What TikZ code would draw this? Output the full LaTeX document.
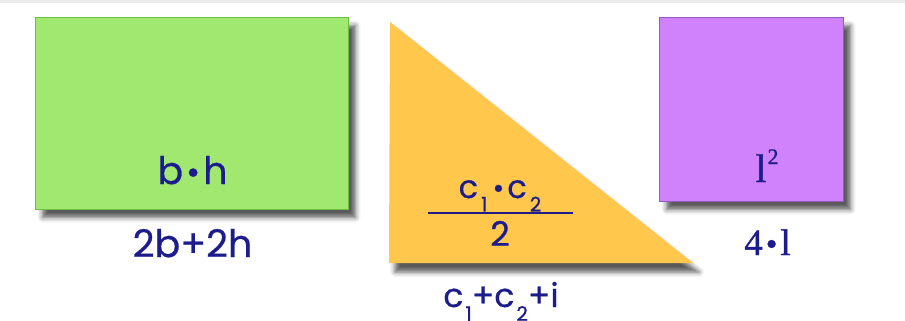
\documentclass[tikz,border=0pt]{standalone}
\usepackage{fontspec}
\setmainfont{Poppins}[FakeBold=0.6]
\newfontfamily\serifx{Liberation Serif}[FakeBold=1]
\usetikzlibrary{shadows.blur}
\definecolor{txt}{RGB}{28,28,140}
\definecolor{greenf}{RGB}{160,232,112}
\definecolor{greend}{RGB}{108,190,64}
\definecolor{orangef}{RGB}{255,200,76}
\definecolor{purplef}{RGB}{207,130,252}
\definecolor{purpled}{RGB}{150,90,190}
\newcommand{\sbx}[1]{\raisebox{-0.42em}{\fontsize{20}{20}\selectfont #1}}
\newcommand{\bul}{\scalebox{0.9}{\textbullet}}
\begin{document}
\begin{tikzpicture}[x=1pt,y=-1pt,
  shapebox/.style={draw, line width=1pt, inner sep=0pt, anchor=north west,
    blur shadow={shadow xshift=7pt, shadow yshift=-8pt, shadow blur radius=5pt, shadow opacity=65}},
  lbl/.style={text=txt, anchor=base, inner sep=0pt, font=\fontsize{38}{40}\selectfont},
  slbl/.style={text=txt, anchor=base, inner sep=0pt, font=\serifx\fontsize{40}{42}\selectfont},
]
\useasboundingbox (0,0) rectangle (905,321);
\fill[black!8] (0,0) rectangle (905,3);
% rectangle
\node[shapebox, fill=greenf, draw=greend, minimum width=313pt, minimum height=192pt] (rect) at (35,17) {};
\node[lbl] (rarea) at (192.5,184) {b\kern3pt\bul\kern3pt h};
\node[lbl] (rper) at (192.5,257) {2b+2h};
% triangle
\fill[orangef, blur shadow={shadow xshift=6pt, shadow yshift=-9pt, shadow blur radius=5pt, shadow opacity=65}]
  (390,22) -- (389,263) -- (693,263) -- cycle;
\node[lbl, font=\fontsize{32}{34}\selectfont] (tnum) at (500,198) {c\kern3pt\sbx{1}\kern5pt\bul\kern3pt c\kern3pt\sbx{2}};
\node[fill=txt, minimum width=145pt, minimum height=2pt, inner sep=0pt] (tbar) at (500.5,213) {};
\node[lbl, font=\fontsize{34}{36}\selectfont] (tden) at (500,246) {2};
\node[lbl, font=\fontsize{33}{35}\selectfont] (tper) at (501,307) {c\kern2pt\sbx{1}+c\kern2pt\sbx{2}+i};
% square
\node[shapebox, fill=purplef, draw=purpled, minimum width=184pt, minimum height=184pt] (sq) at (659,17) {};
\node[slbl] (sarea) at (767,182) {l\kern1pt\raisebox{0.45em}{\fontsize{22}{22}\selectfont 2}};
\node[slbl, font=\serifx\fontsize{37}{40}\selectfont] (sper) at (767.5,255) {4\kern3pt\bul\kern3pt l};
\end{tikzpicture}
\end{document}
